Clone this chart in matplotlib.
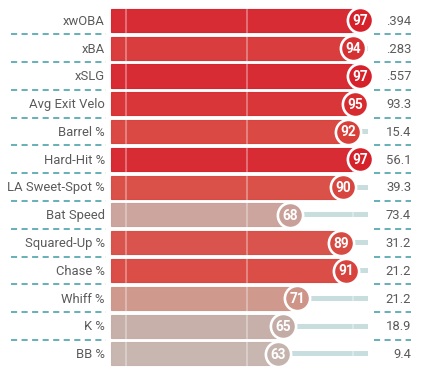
import matplotlib
matplotlib.use("Agg")
import matplotlib.pyplot as plt
from matplotlib.colors import LinearSegmentedColormap

# --- Data ---
metrics = ["xwOBA", "xBA", "xSLG", "Avg Exit Velo", "Barrel %", "Hard-Hit %",
           "LA Sweet-Spot %", "Bat Speed", "Squared-Up %", "Chase %",
           "Whiff %", "K %", "BB %"]
percentiles = [97, 94, 97, 95, 92, 97, 90, 68, 89, 91, 71, 65, 63]
values = [".394", ".283", ".557", "93.3", "15.4", "56.1", "39.3", "73.4",
          "31.2", "21.2", "21.2", "18.9", "9.4"]

# --- Colour scale (grey -> red) ---
cmap = LinearSegmentedColormap.from_list("pct", [
    (0.00, "#c5b8b2"), (0.63, "#c5b4ad"), (0.65, "#c4aca6"),
    (0.68, "#c9a19a"), (0.71, "#cd9487"), (0.89, "#d74b42"),
    (0.92, "#d8403a"), (0.97, "#d6202a"), (1.00, "#d41d27")])

plt.rcParams["font.family"] = ["Roboto", "DejaVu Sans"]
text_color = "#5a5a5a"
dash_color = "#3f9aa6"

fig = plt.figure(figsize=(4.22, 3.77), dpi=100)
ax = fig.add_axes([0, 0, 1, 1])
ax.set_xlim(-51.86, 122.5)
ax.set_ylim(12.83, -0.734)
ax.axis("off")

n = len(metrics)
for i, (name, p, v) in enumerate(zip(metrics, percentiles, values)):
    c = cmap(p / 100)
    # track
    ax.barh(i, 100 - p, left=p, height=0.18, color="#c8dede", zorder=1)
    # bar
    ax.barh(i, p + 6, left=-6, height=0.83, color=c, alpha=0.95,
            edgecolor=c, linewidth=0.8, zorder=2)
    # circle with percentile
    ax.scatter(p, i, s=330, color=c, edgecolors="white", linewidths=1.9, zorder=4)
    ax.text(p, i + 0.03, str(p), color="white", fontsize=9.8, fontweight="bold",
            ha="center", va="center", zorder=5)
    ax.text(-8.5, i + 0.03, name, color=text_color, fontsize=9.4,
            ha="right", va="center")
    ax.text(118, i + 0.03, v, color=text_color, fontsize=9.4,
            ha="right", va="center")
    if i < n - 1:
        ax.plot([-47.3, -8.1], [i + 0.5, i + 0.5], color=dash_color, lw=1.1,
                dashes=(4.0, 2.9), zorder=1)
        ax.plot([102.7, 118], [i + 0.5, i + 0.5], color=dash_color, lw=1.1,
                dashes=(4.0, 2.9), zorder=1)

# faint reference lines
for xv in [0, 50, 94]:
    ax.plot([xv, xv], [-0.45, n - 0.55], color="white", alpha=0.35, lw=1.3, zorder=3)

fig.savefig("out.png", dpi=100)
